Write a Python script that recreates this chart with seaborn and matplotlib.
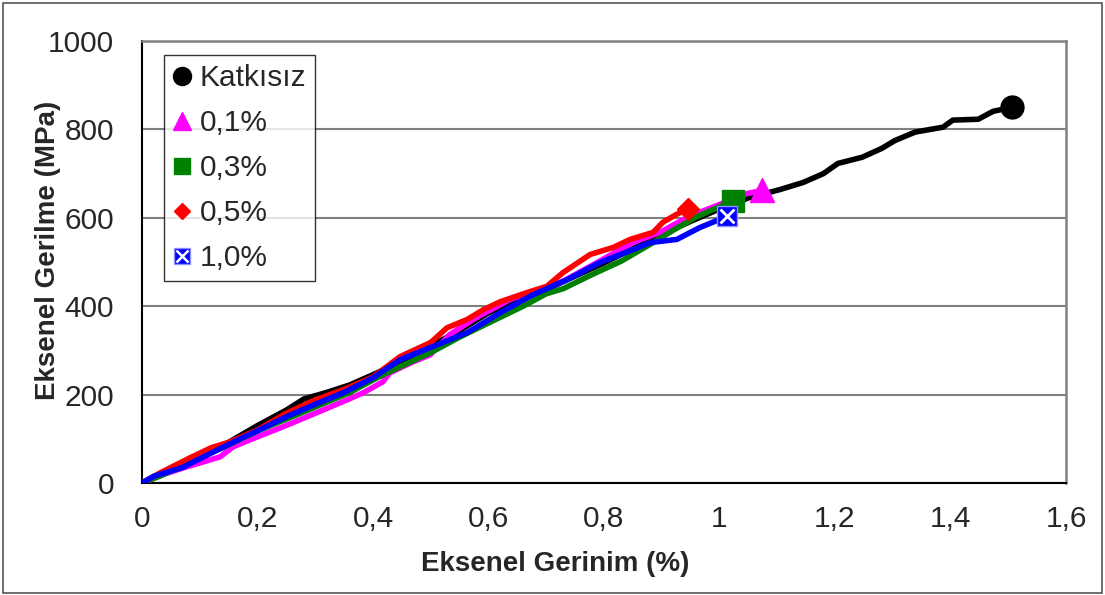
import matplotlib
matplotlib.use("Agg")
import matplotlib.pyplot as plt
import seaborn as sns
import pandas as pd
from matplotlib.lines import Line2D
from matplotlib.patches import Rectangle
from matplotlib.legend_handler import HandlerTuple

# ---- data ----
series_names = ["Katkısız", "0,1%", "0,3%", "0,5%", "1,0%"]

x_katkisiz = [0, 0.03, 0.06, 0.1, 0.15, 0.2, 0.25, 0.28, 0.32, 0.36, 0.4, 0.45, 0.5, 0.55, 0.6, 0.65,
              0.7, 0.75, 0.8, 0.85, 0.9, 0.95, 1.0, 1.05, 1.105, 1.145, 1.18, 1.205, 1.247, 1.281,
              1.304, 1.339, 1.387, 1.404, 1.448, 1.474, 1.507]
y_katkisiz = [0, 18, 38, 60, 92, 130, 165, 190, 205, 222, 245, 275, 310, 345, 385, 412,
              438, 468, 498, 530, 562, 592, 620, 645, 664, 680, 700, 723, 737, 757,
              775, 794, 805, 821, 823, 841, 850]

x_01 = [0, 0.02, 0.071, 0.135, 0.158, 0.199, 0.244, 0.286, 0.326, 0.355, 0.383, 0.417, 0.429, 0.469,
        0.499, 0.533, 0.58, 0.637, 0.68, 0.724, 0.776, 0.81, 0.85, 0.897, 0.944, 0.99, 1.048, 1.074]
y_01 = [0, 12, 34, 59, 82, 104, 127, 150, 172, 188, 204, 229, 249, 274,
        290, 336, 375, 415, 435, 453, 490, 515, 544, 567, 601, 625, 655, 662]

x_03 = [0, 0.03, 0.08, 0.14, 0.2, 0.26, 0.3, 0.36, 0.41, 0.45, 0.5, 0.55, 0.6, 0.66, 0.7, 0.73,
        0.78, 0.83, 0.88, 0.92, 0.96, 1.0, 1.023]
y_03 = [0, 15, 45, 80, 118, 150, 172, 205, 240, 265, 295, 330, 362, 400, 428, 440,
        472, 502, 540, 572, 602, 625, 639]

x_05 = [0, 0.03, 0.08, 0.12, 0.15, 0.2, 0.25, 0.3, 0.35, 0.4, 0.447, 0.5, 0.528, 0.563, 0.591,
        0.62, 0.667, 0.701, 0.729, 0.776, 0.816, 0.845, 0.885, 0.902, 0.926, 0.945]
y_05 = [0, 22, 55, 80, 92, 120, 158, 188, 212, 240, 286, 318, 351, 370, 392,
        410, 431, 445, 476, 517, 533, 551, 567, 590, 608, 620]

x_10 = [0, 0.02, 0.07, 0.12, 0.17, 0.2, 0.25, 0.3, 0.35, 0.4, 0.447, 0.504, 0.563, 0.62, 0.677,
        0.736, 0.793, 0.85, 0.88, 0.926, 0.966, 1.013]
y_10 = [0, 15, 35, 68, 100, 118, 150, 178, 205, 238, 279, 309, 340, 385, 426,
        460, 499, 528, 544, 551, 578, 603]

x_ticks = [0, 0.2, 0.4, 0.6, 0.8, 1.0, 1.2, 1.4, 1.6]
x_tick_labels = ["0", "0,2", "0,4", "0,6", "0,8", "1", "1,2", "1,4", "1,6"]
y_ticks = [0, 200, 400, 600, 800, 1000]
y_tick_labels = ["0", "200", "400", "600", "800", "1000"]

colors = ["#000000", "#FF00FF", "#008000", "#FF0000", "#0000FF"]
xs = [x_katkisiz, x_01, x_03, x_05, x_10]
ys = [y_katkisiz, y_01, y_03, y_05, y_10]

frames = []
for name, xv, yv in zip(series_names, xs, ys):
    frames.append(pd.DataFrame({"strain": xv, "stress": yv, "series": name, "order": range(len(xv))}))
df = pd.concat(frames, ignore_index=True)
ends = df.groupby("series", sort=False).tail(1)

# ---- plot ----
sns.set_style("white")
plt.rcParams["font.family"] = ["Liberation Sans", "DejaVu Sans"]

fig = plt.figure(figsize=(11.05, 5.95), dpi=100)
ax = fig.add_axes([142 / 1105, 1 - 483 / 595, (1066 - 142) / 1105, (483 - 41) / 595])

for name, c in zip(series_names, colors):
    sub = df[df["series"] == name]
    sns.lineplot(data=sub, x="strain", y="stress", color=c, lw=4.0, sort=False,
                 estimator=None, ax=ax, legend=False, zorder=3, solid_joinstyle="round")

marker_styles = {"Katkısız": ("o", 16.5), "0,1%": ("^", 17), "0,3%": ("s", 16.5),
                 "0,5%": ("D", 11.2), "1,0%": ("s", 14.4)}
for name, c in zip(series_names, colors):
    e = ends[ends["series"] == name]
    m, s = marker_styles[name]
    if name == "1,0%":
        ax.plot(e["strain"], e["stress"], marker="s", ms=s, color=c, mec="#9090FF", mew=1, ls="none", zorder=5)
        ax.plot(e["strain"], e["stress"], marker="x", ms=s * 0.72, color="white", mew=2, ls="none", zorder=6)
    else:
        ax.plot(e["strain"], e["stress"], marker=m, ms=s, color=c, ls="none", zorder=5)

ax.set_xlim(0, 1.6)
ax.set_ylim(0, 1000)
ax.set_xticks(x_ticks)
ax.set_xticklabels(x_tick_labels)
ax.set_yticks(y_ticks)
ax.set_yticklabels(y_tick_labels)
ax.tick_params(axis="both", labelsize=21.5, direction="out", length=7, width=1.3, color="black")
ax.tick_params(axis="y", pad=13)
ax.tick_params(axis="x", pad=9)

ax.yaxis.grid(True, color="#808080", lw=1.5)
ax.xaxis.grid(False)
ax.set_axisbelow(True)
for side in ["left", "bottom"]:
    ax.spines[side].set_color("black")
    ax.spines[side].set_linewidth(1.5)
for side in ["top", "right"]:
    ax.spines[side].set_color("#808080")
    ax.spines[side].set_linewidth(1.8)
    ax.spines[side].set_visible(True)

ax.set_xlabel("Eksenel Gerinim (%)", fontsize=20, fontweight="bold")
ax.set_ylabel("Eksenel Gerilme (MPa)", fontsize=20, fontweight="bold")
ax.xaxis.set_label_coords((555 - 142) / 924, -(564 - 483) / 442)
ax.yaxis.set_label_coords(-(142 - 48) / 924, (483 - 250) / 442)
ax.xaxis.label.set_va("center")
ax.yaxis.label.set_va("center")

# legend
handles = [
    Line2D([], [], marker="o", color="black", ls="none", ms=13),
    Line2D([], [], marker="^", color="#FF00FF", ls="none", ms=13),
    Line2D([], [], marker="s", color="#008000", ls="none", ms=12),
    Line2D([], [], marker="D", color="#FF0000", ls="none", ms=8.5),
    (Line2D([], [], marker="s", color="#0000FF", mec="#9090FF", ls="none", ms=12),
     Line2D([], [], marker="x", color="white", mew=1.8, ls="none", ms=8.5)),
]
leg = ax.legend(handles, series_names, loc="upper left", bbox_to_anchor=(22 / 924, 1 - 14 / 442),
                fontsize=21.5, frameon=True, fancybox=False, edgecolor="black",
                handlelength=0.6, handletextpad=0.3, labelspacing=0.57, borderpad=0.3,
                borderaxespad=0, handler_map={tuple: HandlerTuple(ndivide=1, pad=0)})
leg.get_frame().set_linewidth(1.0)

fig.patches.append(Rectangle((0.003, 0.004), 0.994, 0.991, transform=fig.transFigure,
                             fill=False, edgecolor="#555555", lw=1.2))

fig.savefig("out.png", dpi=100)
